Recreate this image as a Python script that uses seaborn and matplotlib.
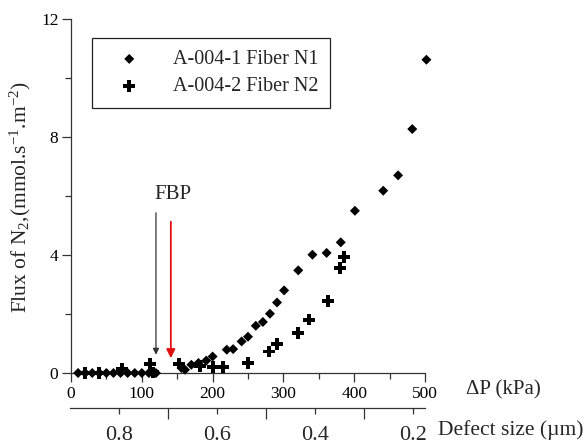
import matplotlib
matplotlib.use("Agg")
import matplotlib.pyplot as plt
import seaborn as sns
import pandas as pd
from matplotlib.ticker import FixedLocator, MultipleLocator

# ---- data ----
n1_dp = [10, 20, 30, 40, 50, 60, 70, 80, 90, 100, 110, 120,
         156, 161, 170, 180, 191, 200, 220, 229, 241, 250, 261, 271,
         281, 291, 301, 321, 341, 361, 381, 401, 441, 462, 482, 502]
n1_flux = [0, 0, 0, 0, 0, 0, 0, 0, 0, 0, 0, 0,
           0.17, 0.11, 0.28, 0.34, 0.42, 0.56, 0.79, 0.81, 1.07, 1.23, 1.60, 1.73,
           2.01, 2.39, 2.80, 3.48, 4.01, 4.07, 4.43, 5.50, 6.18, 6.70, 8.27, 10.62]

n2_dp = [20, 40, 72, 112, 116, 153, 182, 201, 215, 250,
         280, 291, 321, 336, 363, 380, 386]
n2_flux = [0, 0, 0.15, 0.30, 0.02, 0.32, 0.25, 0.21, 0.21, 0.35,
           0.73, 0.97, 1.36, 1.81, 2.45, 3.56, 3.92]

n1_label = "A-004-1 Fiber N1"
n2_label = "A-004-2 Fiber N2"

x_major = [0, 100, 200, 300, 400, 500]
y_major = [0, 4, 8, 12]
defect_major = [0.8, 0.6, 0.4, 0.2]
defect_minor = [0.9, 0.7, 0.5, 0.3]

fbp_black_x = 120
fbp_red_x = 141

# ---- style ----
sns.set_theme(style="ticks")
plt.rcParams['font.family'] = ['Liberation Serif', 'DejaVu Serif']
plt.rcParams['mathtext.fontset'] = 'custom'
plt.rcParams['mathtext.rm'] = 'Liberation Serif'
plt.rcParams['mathtext.it'] = 'Liberation Serif:italic'
plt.rcParams['mathtext.default'] = 'regular'

W, H = 585, 444
fig = plt.figure(figsize=(W / 100, H / 100), dpi=100)
fig.patch.set_facecolor('white')

ax = fig.add_axes([71 / W, (H - 373) / H, 354 / W, 354 / H])
ax.set_facecolor('white')

df1 = pd.DataFrame({"dp": n1_dp, "flux": n1_flux})
df2 = pd.DataFrame({"dp": n2_dp, "flux": n2_flux})

sns.scatterplot(data=df1, x="dp", y="flux", marker='D', s=26, color='black',
                edgecolor='none', linewidth=0, label=n1_label, ax=ax,
                clip_on=False, zorder=3)
sns.scatterplot(data=df2, x="dp", y="flux", marker='P', s=72, color='black',
                edgecolor='none', linewidth=0, label=n2_label, ax=ax,
                clip_on=False, zorder=3)

ax.set_xlim(0, 500)
ax.set_ylim(0, 12)
ax.set_xlabel("")
ax.set_ylabel("")

axis_col = '#333333'
for side in ['top', 'right']:
    ax.spines[side].set_visible(False)
for side in ['left', 'bottom']:
    ax.spines[side].set_color(axis_col)
    ax.spines[side].set_linewidth(0.9)

ax.xaxis.set_major_locator(FixedLocator(x_major))
ax.xaxis.set_minor_locator(MultipleLocator(50))
ax.yaxis.set_major_locator(FixedLocator(y_major))
ax.yaxis.set_minor_locator(MultipleLocator(2))
ax.tick_params(axis='both', which='major', direction='out', length=6.5,
               width=0.9, color=axis_col, labelsize=12.5, labelcolor='black')
ax.tick_params(axis='both', which='minor', direction='out', length=4,
               width=0.9, color=axis_col)
ax.tick_params(axis='x', which='major', pad=3)
ax.tick_params(axis='y', which='major', pad=2.5)

# ---- FBP arrows ----
ax.annotate("", xy=(fbp_black_x, 0.62), xytext=(fbp_black_x, 5.43),
            arrowprops=dict(arrowstyle='-|>', color='#333333', lw=0.9,
                            mutation_scale=9, shrinkA=0, shrinkB=0))
ax.annotate("", xy=(fbp_red_x, 0.50), xytext=(fbp_red_x, 5.13),
            arrowprops=dict(arrowstyle='-|>', color='#e01010', lw=1.3,
                            mutation_scale=13, shrinkA=0, shrinkB=0))
ax.text(144, 6.04, "FBP", ha='center', va='center', fontsize=15)

# ---- legend ----
leg = ax.legend(loc='upper left', bbox_to_anchor=(92 / W, (H - 38) / H),
                bbox_transform=fig.transFigure, frameon=True, fancybox=False,
                edgecolor='#222222', framealpha=1, fontsize=14.5,
                borderpad=0.6, handlelength=2.5, handletextpad=0.9,
                labelspacing=0.4, borderaxespad=0)
leg.get_frame().set_linewidth(0.9)

# ---- secondary (defect size) axis ----
ax2 = fig.add_axes([71 / W, (H - 408) / H, 354 / W, 0.0001])
ax2.set_facecolor('none')
ax2.set_xlim(0.899, 0.1755)
ax2.set_ylim(0, 1)
for side in ['top', 'right', 'left']:
    ax2.spines[side].set_visible(False)
ax2.spines['bottom'].set_color(axis_col)
ax2.spines['bottom'].set_linewidth(0.9)
ax2.spines['bottom'].set_bounds(0.901, 0.1755)
ax2.set_yticks([])
ax2.xaxis.set_major_locator(FixedLocator(defect_major))
ax2.xaxis.set_minor_locator(FixedLocator(defect_minor))
ax2.set_xticklabels([f"{v:.1f}" for v in defect_major])
ax2.tick_params(axis='x', which='major', direction='out', length=4,
                width=0.9, color=axis_col, labelsize=16, pad=9)
ax2.tick_params(axis='x', which='minor', direction='out', length=8,
                width=0.9, color=axis_col)

# ---- axis titles ----
fig.text(503 / W, 1 - 390 / H, "ΔP (kPa)", ha='center', va='center', fontsize=15)
fig.text(511 / W, 1 - 430 / H, "Defect size (µm)", ha='center', va='center', fontsize=15.5)
fig.text(20 / W, 1 - 197 / H, "Flux of N$_2$,(mmol.s$^{-1}$.m$^{-2}$)",
         ha='center', va='center', rotation=90, fontsize=15.5)

fig.savefig("out.png", dpi=100, facecolor='white')
